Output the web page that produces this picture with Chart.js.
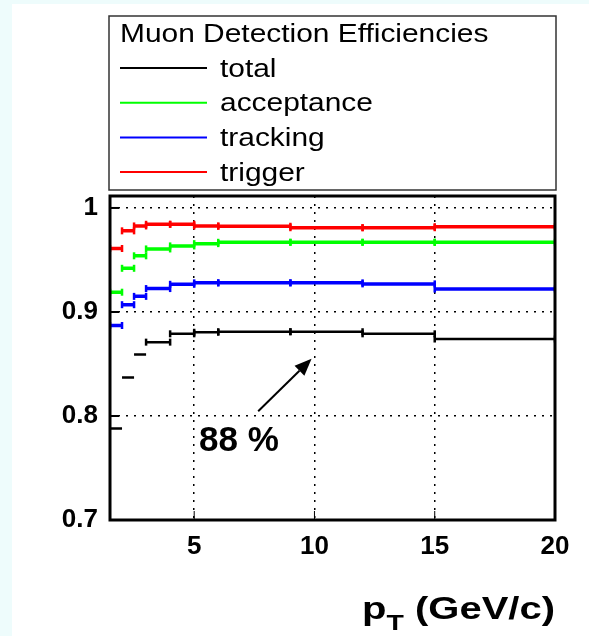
<!DOCTYPE html>
<html>
<head>
<meta charset="utf-8">
<script src="https://cdn.jsdelivr.net/npm/chart.js@4/dist/chart.umd.min.js"></script>
<style>
  html, body { margin: 0; padding: 0; background: #fff; }
  canvas { display: block; }
</style>
</head>
<body>
<canvas id="eff" width="589" height="636"></canvas>
<script>
// pT bins (GeV/c)
const binLo = [1.5, 2, 2.5, 3, 4, 5, 6, 9, 12, 15];
const binHi = [2, 2.5, 3, 4, 5, 6, 9, 12, 15, 20];

// efficiencies per bin
const total      = [0.788, 0.837, 0.859, 0.871, 0.879, 0.8805, 0.881, 0.881, 0.879, 0.874];
const acceptance = [0.919, 0.942, 0.954, 0.9606, 0.9635, 0.9657, 0.967, 0.967, 0.967, 0.967];
const tracking   = [0.887, 0.907, 0.915, 0.9225, 0.9266, 0.928, 0.928, 0.928, 0.927, 0.922];
const trigger    = [0.961, 0.978, 0.9827, 0.9843, 0.9843, 0.9827, 0.9824, 0.981, 0.981, 0.982];

const seriesNames  = ["total", "acceptance", "tracking", "trigger"];
const seriesColors = ["#000000", "#00ff00", "#0000ff", "#ff0000"];
const seriesValues = [total, acceptance, tracking, trigger];

const xTicks = [5, 10, 15, 20];
const yTicks = [0.7, 0.8, 0.9, 1];

const legendTitle = "Muon Detection Efficiencies";
// arrow annotation, data coordinates
const noteText = "88 %";
const noteAt = { x: 5.2, y: 0.7665 };
const arrowFrom = { x: 7.66, y: 0.8045 };
const arrowTo = { x: 9.88, y: 0.855 };

const FONT = "'Liberation Sans', Arial, Helvetica, sans-serif";

function steps(values) {
  const pts = [];
  values.forEach((v, i) => {
    pts.push({ x: binLo[i], y: v, bin: i });
    pts.push({ x: binHi[i], y: v, bin: i });
    pts.push({ x: binHi[i], y: null });
  });
  return pts;
}

// text drawn a bit wider than the font, like the original render
function wideText(ctx, txt, x, y, sx) {
  ctx.save();
  ctx.translate(x, y);
  ctx.scale(sx, 1);
  ctx.fillText(txt, 0, 0);
  ctx.restore();
  return ctx.measureText(txt).width * sx;
}

const datasets = seriesValues.map((vals, k) => ({
  label: seriesNames[k],
  data: steps(vals),
  borderColor: seriesColors[k],
  backgroundColor: seriesColors[k],
  borderWidth: k === 0 ? 2.5 : 3.5,
  tension: 0,
  spanGaps: false,
  pointStyle: "line",
  pointRotation: 90,
  pointBorderWidth: 2.5,
  pointRadius: (c) => (k === 0 && c.raw && c.raw.bin < 3) ? 0 : 3.5,
  borderCapStyle: "butt"
}));

const framePlugin = {
  id: "frame",
  beforeDraw(chart) {
    const ctx = chart.ctx;
    ctx.save();
    ctx.fillStyle = "#eefcfc";
    ctx.fillRect(0, 0, chart.width, chart.height);
    ctx.fillStyle = "#ffffff";
    ctx.fillRect(12, 4, chart.width - 12, chart.height - 4);
    ctx.restore();
  },
  afterDatasetsDraw(chart) {
    const ctx = chart.ctx;
    const a = chart.chartArea;
    const xs = chart.scales.x, ys = chart.scales.y;
    ctx.save();

    // inner tick marks
    ctx.strokeStyle = "#000";
    ctx.lineWidth = 2;
    yTicks.forEach(v => {
      const y = ys.getPixelForValue(v);
      ctx.beginPath(); ctx.moveTo(a.left, y); ctx.lineTo(a.left + 9, y); ctx.stroke();
    });
    ctx.lineWidth = 1;
    xTicks.forEach(v => {
      const x = xs.getPixelForValue(v);
      ctx.beginPath(); ctx.moveTo(x, a.bottom); ctx.lineTo(x, a.bottom - 9); ctx.stroke();
    });

    // frame
    ctx.lineWidth = 3;
    ctx.strokeRect(a.left, a.top, a.right - a.left, a.bottom - a.top);

    // legend box
    ctx.lineWidth = 1.5;
    ctx.strokeStyle = "#333";
    ctx.strokeRect(109, 16, 447, 174);
    ctx.fillStyle = "#000";
    ctx.font = "26px " + FONT;
    ctx.textBaseline = "alphabetic";
    ctx.textAlign = "left";
    wideText(ctx, legendTitle, 120, 42, 1.15);
    chart.data.datasets.forEach((ds, i) => {
      const ly = 68 + i * 34.7;
      ctx.strokeStyle = ds.borderColor;
      ctx.lineWidth = 2;
      ctx.beginPath(); ctx.moveTo(120, ly); ctx.lineTo(207, ly); ctx.stroke();
      ctx.fillStyle = "#000";
      wideText(ctx, ds.label, 220, ly + 8.5, 1.15);
    });

    // arrow + note
    const x0 = xs.getPixelForValue(arrowFrom.x), y0 = ys.getPixelForValue(arrowFrom.y);
    const x1 = xs.getPixelForValue(arrowTo.x), y1 = ys.getPixelForValue(arrowTo.y);
    const ang = Math.atan2(y1 - y0, x1 - x0);
    const hl = 17, hw = 7;
    const bx = x1 - hl * Math.cos(ang), by = y1 - hl * Math.sin(ang);
    ctx.strokeStyle = "#000";
    ctx.lineWidth = 2;
    ctx.beginPath(); ctx.moveTo(x0, y0); ctx.lineTo(bx, by); ctx.stroke();
    ctx.beginPath();
    ctx.moveTo(x1, y1);
    ctx.lineTo(bx + hw * Math.sin(ang), by - hw * Math.cos(ang));
    ctx.lineTo(bx - hw * Math.sin(ang), by + hw * Math.cos(ang));
    ctx.closePath();
    ctx.fillStyle = "#000";
    ctx.fill();

    ctx.font = "bold 35px " + FONT;
    ctx.fillText(noteText, xs.getPixelForValue(noteAt.x), ys.getPixelForValue(noteAt.y));

    // axis title p_T (GeV/c)
    const sx = 1.29;
    const big = "bold 31px " + FONT, small = "bold 22px " + FONT;
    ctx.font = big;
    const wp = ctx.measureText("p").width * sx;
    const wr = ctx.measureText(" (GeV/c)").width * sx;
    ctx.font = small;
    const wt = ctx.measureText("T").width * sx;
    const tx = a.right - (wp + wt + wr);
    const base = 619;
    ctx.font = big;
    wideText(ctx, "p", tx, base, sx);
    ctx.font = small;
    wideText(ctx, "T", tx + wp, base + 11, sx);
    ctx.font = big;
    wideText(ctx, " (GeV/c)", tx + wp + wt, base, sx);

    ctx.restore();
  }
};

new Chart(document.getElementById("eff"), {
  type: "line",
  data: { datasets: datasets },
  options: {
    responsive: false,
    animation: false,
    events: [],
    layout: { padding: { left: 0, right: 34, top: 196, bottom: 76 } },
    plugins: { legend: { display: false }, tooltip: { enabled: false } },
    scales: {
      x: {
        type: "linear",
        min: 1.5,
        max: 20,
        afterBuildTicks: (s) => { s.ticks = xTicks.map(v => ({ value: v })); },
        afterFit: (s) => { s.height = 40; },
        grid: { color: "#000", lineWidth: 1.5, drawTicks: false },
        border: { display: false, dash: [2, 6] },
        ticks: {
          color: "#000",
          padding: 11,
          maxRotation: 0,
          font: { family: FONT, size: 26, weight: "bold" },
          callback: (v) => String(v)
        }
      },
      y: {
        type: "linear",
        min: 0.7,
        max: 1.0115,
        afterBuildTicks: (s) => { s.ticks = yTicks.map(v => ({ value: v })); },
        afterFit: (s) => { s.width = 110; },
        grid: { color: "#000", lineWidth: 1.5, drawTicks: false },
        border: { display: false, dash: [2, 6] },
        ticks: {
          color: "#000",
          padding: 12,
          font: { family: FONT, size: 26, weight: "bold" },
          callback: (v) => String(Number(v.toFixed(2)))
        }
      }
    }
  },
  plugins: [framePlugin]
});
</script>
</body>
</html>
